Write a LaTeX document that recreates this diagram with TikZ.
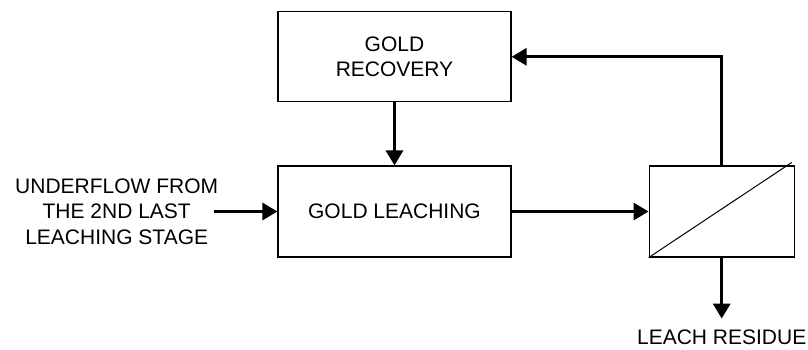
\documentclass[tikz,border=0pt]{standalone}
\usepackage{fontspec}
\setmainfont{Liberation Sans}
\usepackage{tikz}
\usetikzlibrary{positioning,arrows.meta}

\begin{document}
\begin{tikzpicture}[x=1pt, y=-1pt,
    font=\fontsize{21}{25.5}\selectfont,
    unit/.style={draw, line width=1.2pt, minimum width=233pt, minimum height=91pt, align=center, inner sep=0pt},
    label/.style={align=center, inner sep=0pt},
    flow/.style={line width=3pt, -{Triangle[length=15pt, width=17pt]}}]
  \useasboundingbox (0,0) rectangle (808,349);
  % Define nodes
  \node[unit]                         (leach) at (394.5,211.5) {GOLD LEACHING};
  \node[unit, above=63pt of leach, minimum height=90pt]  (recov) {GOLD\\RECOVERY};
  \node[unit, right=137pt of leach, minimum width=145pt] (sep) {};
  \node[label, left=59pt of leach]    (feed) {UNDERFLOW FROM\\THE 2ND LAST\\LEACHING STAGE};
  \node[label, below=72pt of sep]     (res) {LEACH RESIDUE};
  \draw[line width=1pt] (sep.south west) -- ([xshift=-3pt, yshift=3pt]sep.north east);

  % Connect the nodes
  \draw[flow] (recov) -- (leach);
  \draw[flow] ([xshift=-4pt]feed.east) -- (leach);
  \draw[flow] (leach) -- (sep);
  \draw[flow] (sep.north) |- (recov.east);
  \draw[flow, shorten >=11pt] (sep.south) -- (sep.south |- res.north);
\end{tikzpicture}
\end{document}
